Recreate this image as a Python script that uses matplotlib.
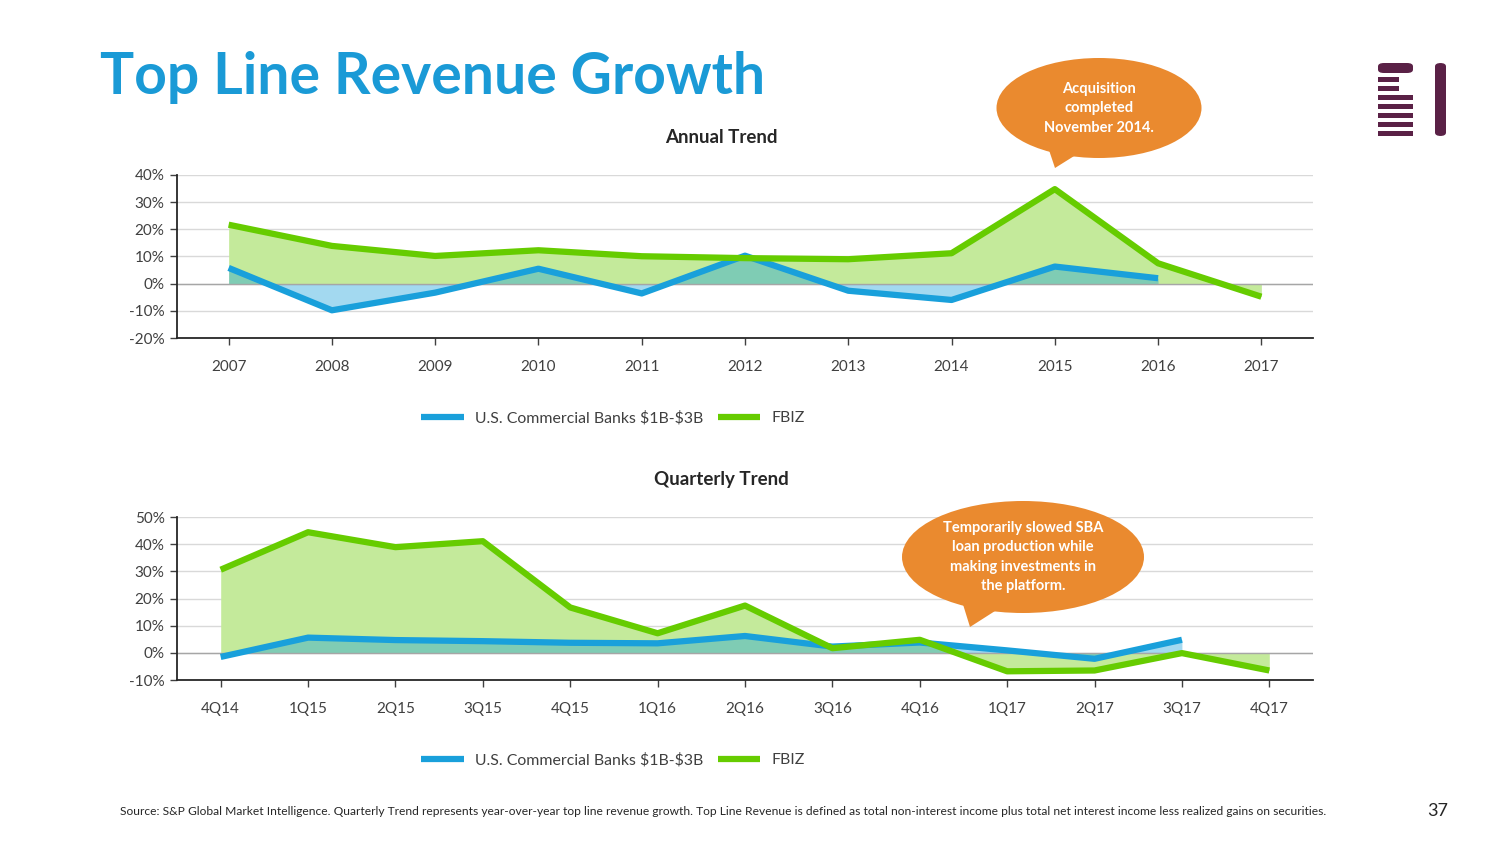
import numpy as np
import matplotlib.pyplot as plt
from matplotlib.patches import Ellipse, Polygon, FancyBboxPatch, Rectangle
from matplotlib.lines import Line2D

plt.rcParams['font.family'] = ['Lato', 'DejaVu Sans']

# ---- data (percent) ----
years = [2007, 2008, 2009, 2010, 2011, 2012, 2013, 2014, 2015, 2016, 2017]
banks_annual = [5.8, -9.8, -3.3, 5.5, -3.6, 10.3, -2.6, -6.0, 6.3, 2.0, np.nan]
fbiz_annual = [21.7, 13.9, 10.2, 12.3, 10.1, 9.4, 9.0, 11.2, 34.8, 7.5, -4.8]

quarters = ['4Q14', '1Q15', '2Q15', '3Q15', '4Q15', '1Q16', '2Q16',
            '3Q16', '4Q16', '1Q17', '2Q17', '3Q17', '4Q17']
banks_q = [-1.5, 5.6, 4.7, 4.3, 3.7, 3.5, 6.2, 2.3, 3.8, 0.9, -2.2, 4.8, np.nan]
fbiz_q = [30.6, 44.4, 38.9, 41.1, 16.7, 7.2, 17.4, 1.7, 4.8, -6.8, -6.5, -0.1, -6.5]

annual_ticks = [-20, -10, 0, 10, 20, 30, 40]
quarter_ticks = [-10, 0, 10, 20, 30, 40, 50]

series_names = [r'U.S. Commercial Banks \$1B-\$3B', 'FBIZ']

BLUE = '#19a0db'
GREEN = '#66cc00'
GREEN_FILL = '#c4ea9b'
ORANGE = '#ea8a2f'
PURPLE = '#5a2146'
TEXT = '#404040'

W, H = 1504, 846
fig = plt.figure(figsize=(W / 100, H / 100), dpi=100)


def fx(x):
    return x / W


def fy(y):
    return 1 - y / H


def axes_px(left, top, right, bottom):
    return fig.add_axes([fx(left), fy(bottom), fx(right - left), (bottom - top) / H])


def draw_trend(ax, x, banks, fbiz, ticks, labels):
    x = np.arange(len(x))
    banks = np.array(banks, dtype=float)
    fbiz = np.array(fbiz, dtype=float)
    ax.fill_between(x, 0, fbiz, color=GREEN_FILL, lw=0, zorder=1)
    ok = ~np.isnan(banks)
    ax.fill_between(x[ok], 0, banks[ok], color=BLUE, alpha=0.4, lw=0, zorder=2)
    for t in ticks:
        ax.axhline(t, color='#d9d9d9', lw=1, zorder=0)
    ax.axhline(0, color='#a6a6a6', lw=1, zorder=3)
    ax.plot(x[ok], banks[ok], color=BLUE, lw=4.5, solid_capstyle='butt', zorder=4)
    ax.plot(x, fbiz, color=GREEN, lw=4.5, solid_capstyle='butt', zorder=5)
    ax.set_xlim(-0.5, len(x) - 0.5)
    ax.set_ylim(ticks[0], ticks[-1])
    ax.set_yticks(ticks)
    ax.set_yticklabels([f'{t}%' for t in ticks])
    ax.set_xticks(x)
    ax.set_xticklabels(labels)
    for s in ['top', 'right']:
        ax.spines[s].set_visible(False)
    for s in ['left', 'bottom']:
        ax.spines[s].set_color('#262626')
        ax.spines[s].set_linewidth(1.3)
        ax.spines[s].set_zorder(6)
    ax.tick_params(axis='both', labelsize=11, colors=TEXT, length=5, width=1)
    ax.tick_params(axis='x', pad=11)
    ax.tick_params(axis='y', pad=4)
    ax.set_facecolor('none')


ax1 = axes_px(177, 175, 1313, 338)
draw_trend(ax1, years, banks_annual, fbiz_annual, annual_ticks, [str(y) for y in years])
ax2 = axes_px(177, 517, 1313, 680)
draw_trend(ax2, quarters, banks_q, fbiz_q, quarter_ticks, quarters)

# chart titles
fig.text(fx(721), fy(137), 'Annual Trend', ha='center', va='center',
         fontsize=13.5, fontweight='bold', color='#262626')
fig.text(fx(721), fy(479), 'Quarterly Trend', ha='center', va='center',
         fontsize=13.5, fontweight='bold', color='#262626')

# legends
handles = [Line2D([], [], color=BLUE, lw=4.5, solid_capstyle='butt'),
           Line2D([], [], color=GREEN, lw=4.5, solid_capstyle='butt')]
for ly in (418, 760):
    fig.legend(handles, series_names, loc='center', bbox_to_anchor=(fx(613), fy(ly)),
               ncol=2, frameon=False, fontsize=11.4, handlelength=2.7,
               handletextpad=0.7, columnspacing=0.9, labelcolor=TEXT)

# main title
fig.text(fx(100), fy(78), 'Top Line Revenue Growth', ha='left', va='center',
         fontsize=41, fontweight='bold', color='#1a9ad6')


# callouts
def callout(cx, cy, w, h, tail, text, fs):
    tx, ty = tail
    poly = Polygon([(fx(cx - w * 0.28), fy(cy + h * 0.2)), (fx(tx), fy(ty)),
                    (fx(cx - w * 0.02), fy(cy + h * 0.35))],
                   closed=True, transform=fig.transFigure, color=ORANGE, lw=0)
    fig.add_artist(poly)
    ell = Ellipse((fx(cx), fy(cy)), w / W, h / H, transform=fig.transFigure,
                  color=ORANGE, lw=0)
    fig.add_artist(ell)
    fig.text(fx(cx), fy(cy), text, ha='center', va='center', fontsize=fs,
             fontweight='bold', color='white', linespacing=1.5)


callout(1099, 108, 205, 100, (1055, 168),
        'Acquisition\ncompleted\nNovember 2014.', 10.5)
callout(1023, 557, 242, 112, (970, 627),
        'Temporarily slowed SBA\nloan production while\nmaking investments in\nthe platform.', 10.5)

# logo
def rect(x0, y0, x1, y1, rounded=False):
    if rounded:
        p = FancyBboxPatch((fx(x0), fy(y1)), fx(x1 - x0), (y1 - y0) / H,
                           boxstyle='round,pad=0,rounding_size=0.004',
                           transform=fig.transFigure, color=PURPLE, lw=0)
    else:
        p = Rectangle((fx(x0), fy(y1)), fx(x1 - x0), (y1 - y0) / H,
                      transform=fig.transFigure, color=PURPLE, lw=0)
    fig.add_artist(p)


rect(1378, 63, 1413, 73, rounded=True)
rect(1378, 77, 1399, 82)
rect(1378, 86, 1399, 91)
for yy in (95, 104, 113, 122, 131):
    rect(1378, yy, 1413, yy + 5)
rect(1435, 63, 1446, 136, rounded=True)

# footer
fig.text(fx(120), fy(811), 'Source: S&P Global Market Intelligence. Quarterly Trend represents '
         'year-over-year top line revenue growth. Top Line Revenue is defined as total '
         'non-interest income plus total net interest income less realized gains on securities.',
         ha='left', va='center', fontsize=8.68, color='#262626')
fig.text(fx(1438), fy(811), '37', ha='center', va='center', fontsize=13, color='#262626')

fig.savefig('out.png', dpi=100)
